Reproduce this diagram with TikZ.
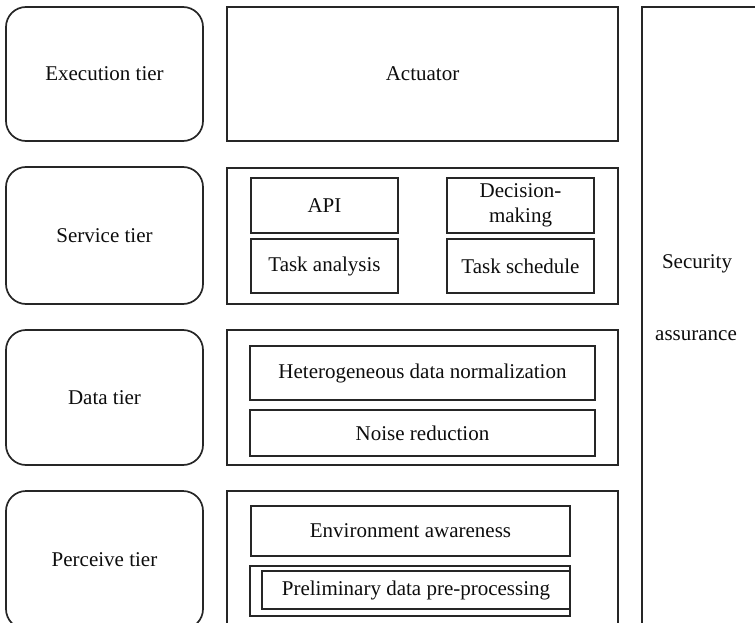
\documentclass[tikz,border=0pt]{standalone}
\usepackage{fontspec}
\setmainfont{Liberation Serif}
\begin{document}
\begin{tikzpicture}[x=1pt,y=-1pt,
  every node/.style={font=\fontsize{21}{25}\selectfont, text=black!95},
  line/.style={draw=black!85, line width=1.7pt},
  tierbox/.style={line, rounded corners=20pt, minimum width=197pt, inner sep=0pt},
  panel/.style={line, minimum width=391pt, inner sep=0pt},
  item/.style={draw=black!85, line width=1.5pt, inner sep=0pt, align=center}
]
\useasboundingbox (0,0) rectangle (755,623);
\clip (0,0) rectangle (755,623);

% tier labels on the left
\node[tierbox, minimum height=134pt] (exec) at (104.5,74) {Execution tier};
\node[tierbox, minimum height=137pt] (serv) at (104.5,235.5) {Service tier};
\node[tierbox, minimum height=135pt] (data) at (104.5,397.5) {Data tier};
\node[tierbox, minimum height=138pt] (perc) at (104.5,560) {Perceive tier};

% tier panels
\node[panel, minimum height=134pt] (act) at (422.5,74) {Actuator};
\node[panel, minimum height=136pt] (servp) at (422.5,236) {};
\node[panel, minimum height=135pt] (datap) at (422.5,397.5) {};
\node[panel, minimum height=140pt] (percp) at (422.5,561) {};

% security column
\node[line, minimum width=128pt, minimum height=633pt, inner sep=0pt] (sec) at (706,323.5) {};
\node (secA) at (697,264) {Security};
\node (secB) at (696,336) {assurance};

% service tier items
\node[item, minimum width=147pt, minimum height=55pt] (api) at (324.5,205.5) {API};
\node[item, minimum width=147pt, minimum height=54pt] (task) at (324.5,266) {Task analysis};
\node[item, minimum width=147pt, minimum height=55pt] (dec) at (520.5,205.5) {Decision-\\making};
\node[item, minimum width=147pt, minimum height=54pt] (sched) at (520.5,266) {Task schedule};

% data tier items
\node[item, minimum width=345pt, minimum height=54pt] (hetero) at (422.5,373) {Heterogeneous data normalization};
\node[item, minimum width=345pt, minimum height=46pt] (noise) at (422.5,433) {Noise reduction};

% perceive tier items
\node[item, minimum width=319pt, minimum height=50pt] (env) at (410.5,531) {Environment awareness};
\node[item, minimum width=320pt, minimum height=50pt] (preo) at (410,591) {};
\node[item, minimum width=308pt, minimum height=38pt] (prei) at (416,590) {Preliminary data pre-processing};
\end{tikzpicture}
\end{document}
